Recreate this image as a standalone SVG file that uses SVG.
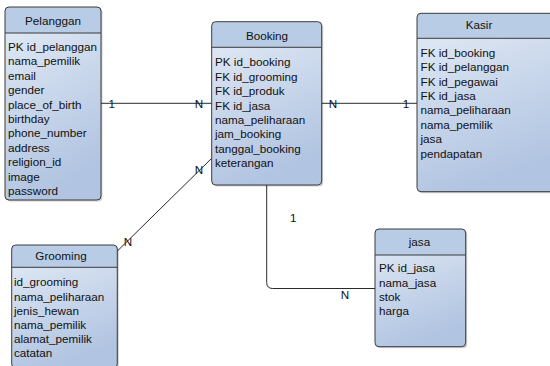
<svg xmlns="http://www.w3.org/2000/svg" width="550" height="366" viewBox="0 0 550 366">
<defs>
<linearGradient id="body" x1="0" y1="0" x2="0.3" y2="1">
<stop offset="0" stop-color="#e5edf7"/>
<stop offset="1" stop-color="#b1c4e1"/>
</linearGradient>
<clipPath id="cPel"><rect x="5" y="7" width="96" height="193" rx="4"/></clipPath>
<clipPath id="cBook"><rect x="211.7" y="21.7" width="110" height="163.3" rx="4"/></clipPath>
<clipPath id="cKas"><rect x="417" y="13.3" width="140" height="178.4" rx="4"/></clipPath>
<clipPath id="cGro"><rect x="11.7" y="245" width="105.6" height="123" rx="4"/></clipPath>
<clipPath id="cJasa"><rect x="375" y="229" width="90.7" height="117.7" rx="4"/></clipPath>
</defs>
<style>
.sh{fill:#000;opacity:0.18}
.bd{fill:url(#body)}
.hd{fill:#b9cce6}
.ol{fill:none;stroke:#3a3a3a;stroke-width:1}
.hl{stroke:#3a3a3a;stroke-width:1}
text{font-family:"Liberation Sans",Arial,sans-serif;font-size:11.7px;fill:#111}
.t{text-anchor:middle}
.cn{fill:none;stroke:#2a2a2a;stroke-width:1}
</style>
<g id="connectors">
<line class="cn" x1="101" y1="103.3" x2="211.7" y2="103.3"/>
<line class="cn" x1="321.7" y1="103.3" x2="417" y2="103.3"/>
<line class="cn" x1="211.7" y1="158.3" x2="116.7" y2="251.7"/>
<path class="cn" d="M266.7,185 V282.5 Q266.7,288.5 272.7,288.5 H375"/>
<text x="111.7" y="107.5" class="t">1</text>
<text x="199" y="107.5" class="t">N</text>
<text x="333" y="107.5" class="t">N</text>
<text x="406" y="107.5" class="t">1</text>
<text x="199" y="174" class="t">N</text>
<text x="128" y="245.7" class="t">N</text>
<text x="293.3" y="222.3" class="t">1</text>
<text x="345" y="299" class="t">N</text>
</g>
<g id="Pelanggan">
<rect class="sh" x="6.5" y="8.5" width="96" height="193" rx="4"/>
<g clip-path="url(#cPel)">
<rect class="bd" x="5" y="7" width="96" height="193"/>
<rect class="hd" x="5" y="7" width="96" height="26"/>
</g>
<line class="hl" x1="5" y1="33" x2="101" y2="33"/>
<rect class="ol" x="5" y="7" width="96" height="193" rx="4"/>
<text x="53" y="25" class="t">Pelanggan</text>
<text x="8" y="51">PK id_pelanggan</text>
<text x="8" y="65.4">nama_pemilik</text>
<text x="8" y="79.8">email</text>
<text x="8" y="94.2">gender</text>
<text x="8" y="108.6">place_of_birth</text>
<text x="8" y="123">birthday</text>
<text x="8" y="137.4">phone_number</text>
<text x="8" y="151.8">address</text>
<text x="8" y="166.2">religion_id</text>
<text x="8" y="180.6">image</text>
<text x="8" y="195">password</text>
</g>
<g id="Booking">
<rect class="sh" x="213.2" y="23.2" width="110" height="163.3" rx="4"/>
<g clip-path="url(#cBook)">
<rect class="bd" x="211.7" y="21.7" width="110" height="163.3"/>
<rect class="hd" x="211.7" y="21.7" width="110" height="25.6"/>
</g>
<line class="hl" x1="211.7" y1="47.3" x2="321.7" y2="47.3"/>
<rect class="ol" x="211.7" y="21.7" width="110" height="163.3" rx="4"/>
<text x="267" y="39.7" class="t">Booking</text>
<text x="215" y="66.3">PK id_booking</text>
<text x="215" y="80.7">FK id_grooming</text>
<text x="215" y="95.1">FK id_produk</text>
<text x="215" y="109.5">FK id_jasa</text>
<text x="215" y="123.9">nama_peliharaan</text>
<text x="215" y="138.3">jam_booking</text>
<text x="215" y="152.7">tanggal_booking</text>
<text x="215" y="167.1">keterangan</text>
</g>
<g id="Kasir">
<rect class="sh" x="418.5" y="14.8" width="140" height="178.4" rx="4"/>
<g clip-path="url(#cKas)">
<rect class="bd" x="417" y="13.3" width="140" height="178.4"/>
<rect class="hd" x="417" y="13.3" width="140" height="25"/>
</g>
<line class="hl" x1="417" y1="38.3" x2="557" y2="38.3"/>
<rect class="ol" x="417" y="13.3" width="140" height="178.4" rx="4"/>
<text x="479" y="29" class="t">Kasir</text>
<text x="420.5" y="56.7">FK id_booking</text>
<text x="420.5" y="71.1">FK id_pelanggan</text>
<text x="420.5" y="85.5">FK id_pegawai</text>
<text x="420.5" y="99.9">FK id_jasa</text>
<text x="420.5" y="114.3">nama_peliharaan</text>
<text x="420.5" y="128.7">nama_pemilik</text>
<text x="420.5" y="143.1">jasa</text>
<text x="420.5" y="157.5">pendapatan</text>
</g>
<g id="Grooming">
<rect class="sh" x="13.2" y="246.5" width="105.6" height="123" rx="4"/>
<g clip-path="url(#cGro)">
<rect class="bd" x="11.7" y="245" width="105.6" height="123"/>
<rect class="hd" x="11.7" y="245" width="105.6" height="22.3"/>
</g>
<line class="hl" x1="11.7" y1="267.3" x2="117.3" y2="267.3"/>
<rect class="ol" x="11.7" y="245" width="105.6" height="123" rx="4"/>
<text x="61" y="259.7" class="t">Grooming</text>
<text x="14" y="286.3">id_grooming</text>
<text x="14" y="300.5">nama_peliharaan</text>
<text x="14" y="314.7">jenis_hewan</text>
<text x="14" y="328.9">nama_pemilik</text>
<text x="14" y="343.1">alamat_pemilik</text>
<text x="14" y="357.3">catatan</text>
</g>
<g id="jasa">
<rect class="sh" x="376.5" y="230.5" width="90.7" height="117.7" rx="4"/>
<g clip-path="url(#cJasa)">
<rect class="bd" x="375" y="229" width="90.7" height="117.7"/>
<rect class="hd" x="375" y="229" width="90.7" height="26"/>
</g>
<line class="hl" x1="375" y1="255" x2="465.7" y2="255"/>
<rect class="ol" x="375" y="229" width="90.7" height="117.7" rx="4"/>
<text x="419.5" y="245.7" class="t">jasa</text>
<text x="379" y="272.3">PK id_jasa</text>
<text x="379" y="286.6">nama_jasa</text>
<text x="379" y="300.9">stok</text>
<text x="379" y="315.2">harga</text>
</g>
</svg>
